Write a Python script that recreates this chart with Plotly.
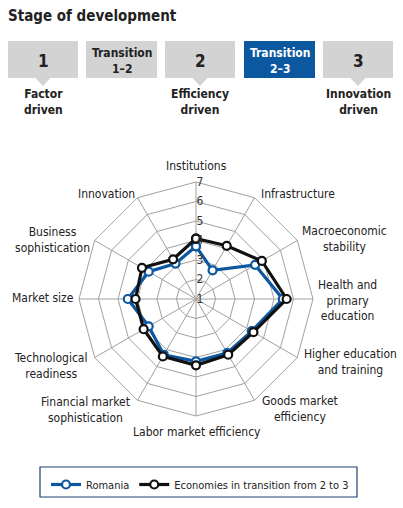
import plotly.graph_objects as go

categories = ["Institutions", "Infrastructure", "Macroeconomic stability",
              "Health and primary education", "Higher education and training",
              "Goods market efficiency", "Labor market efficiency",
              "Financial market sophistication", "Technological readiness",
              "Market size", "Business sophistication", "Innovation"]
category_text = ["Institutions", "Infrastructure", "Macroeconomic<br>stability",
                 "Health and<br>primary<br>education", "Higher education<br>and training",
                 "Goods market<br>efficiency", "Labor market efficiency",
                 "Financial market<br>sophistication", "Technological<br>readiness",
                 "Market size", "Business<br>sophistication", "Innovation"]
romania = [3.7, 2.7, 4.5, 5.45, 4.3, 4.2, 4.2, 4.3, 3.8, 4.5, 3.8, 3.1]
transition = [4.1, 4.15, 4.9, 5.65, 4.4, 4.3, 4.4, 4.4, 4.1, 4.1, 4.2, 3.35]
radial_ticks = [1, 2, 3, 4, 5, 6, 7]
stages = ["1", "Transition<br>1–2", "2", "Transition<br>2–3", "3"]
stage_labels = ["Factor<br>driven", "", "Efficiency<br>driven", "", "Innovation<br>driven"]

W, H = 403, 508
FONT = "DejaVu Sans Condensed, Liberation Sans Narrow, Arial Narrow, sans-serif"
BLUE = "#0b57a0"

fig = go.Figure()
for name, vals, col in [("Romania", romania, BLUE),
                        ("Economies in transition from 2 to 3", transition, "#111111")]:
    fig.add_trace(go.Scatterpolar(
        r=vals + vals[:1], theta=categories + categories[:1], name=name,
        mode="lines+markers", line=dict(color=col, width=3.2),
        marker=dict(size=8, color="white", line=dict(color=col, width=2.2)),
    ))

cx, cy, R = 196, 299, 117
fig.update_layout(
    width=W, height=H, margin=dict(l=0, r=0, t=0, b=0),
    paper_bgcolor="white", plot_bgcolor="white",
    font=dict(family=FONT, size=12, color="#222"),
    polar=dict(
        domain=dict(x=[(cx - R) / W, (cx + R) / W], y=[(H - cy - R) / H, (H - cy + R) / H]),
        bgcolor="white", gridshape="linear",
        radialaxis=dict(range=[1, 7], tickvals=radial_ticks, angle=90, tickangle=90,
                        showline=False, gridcolor="#a0a0a0", gridwidth=1, ticks="",
                        tickfont=dict(size=12, color="#333"), side="clockwise"),
        angularaxis=dict(direction="clockwise", rotation=90, gridcolor="#a0a0a0",
                         linecolor="#a0a0a0", linewidth=1, ticks="", showticklabels=False),
    ),
    showlegend=True,
    legend=dict(orientation="h", x=46 / W, y=1 - 470 / H, xanchor="left", yanchor="top",
                bgcolor="rgba(0,0,0,0)", borderwidth=0, font=dict(size=11, color="#222"),
                itemwidth=30),
)

shapes = []
annotations = []
# angular category labels (centre x, first-line y)
label_pos = [(196, 165), (298, 193), (344, 230), (347, 284), (350, 353), (300, 400),
             (197, 431), (85, 401), (50, 357), (43, 297), (52, 231), (106, 193)]
for txt, (lx, ly) in zip(category_text, label_pos):
    annotations.append(dict(text=txt, xref="paper", yref="paper", x=lx / W, y=1 - (ly - 8) / H,
                            xanchor="center", yanchor="top", showarrow=False,
                            font=dict(size=12, color="#222", family=FONT)))
# legend frame
shapes.append(dict(type="rect", xref="paper", yref="paper", x0=40 / W, x1=357 / W,
                   y0=1 - 497 / H, y1=1 - 467 / H, line=dict(color="#1f3f6f", width=1.2)))
# title
annotations.append(dict(text="<b>Stage of development</b>", xref="paper", yref="paper",
                        x=6 / W, y=1 - 5 / H, xanchor="left", yanchor="top", showarrow=False,
                        font=dict(size=15, color="#222", family=FONT)))
boxes = [(8, 78), (86, 157), (165, 235), (244, 315), (323, 393)]
for i, ((x0, x1), s, lab) in enumerate(zip(boxes, stages, stage_labels)):
    active = (i == 3)
    fill = BLUE if active else "#d3d3d3"
    shapes.append(dict(type="rect", xref="paper", yref="paper", x0=x0 / W, x1=x1 / W,
                       y0=1 - 78 / H, y1=1 - 41 / H, fillcolor=fill, line=dict(width=0)))
    xc = (x0 + x1) / 2
    big = "<br>" not in s
    annotations.append(dict(text=f"<b>{s}</b>", xref="paper", yref="paper", x=xc / W,
                            y=1 - 60.5 / H, xanchor="center", yanchor="middle", showarrow=False,
                            font=dict(size=17 if big else 12, color="white" if active else "#222",
                                      family=FONT)))
    if lab:
        shapes.append(dict(type="path", xref="paper", yref="paper",
                           path=f"M {(xc - 8) / W} {1 - 77.5 / H} L {(xc + 8) / W} {1 - 77.5 / H} L {xc / W} {1 - 86 / H} Z",
                           fillcolor="#d3d3d3", line=dict(width=0)))
        annotations.append(dict(text=f"<b>{lab}</b>", xref="paper", yref="paper", x=xc / W,
                                y=1 - 85 / H, xanchor="center", yanchor="top", showarrow=False,
                                font=dict(size=12, color="#222", family=FONT)))
fig.update_layout(shapes=shapes, annotations=annotations)
fig.write_html("out.html", config={"displayModeBar": False},
               post_script="document.body.style.margin='0px';")
